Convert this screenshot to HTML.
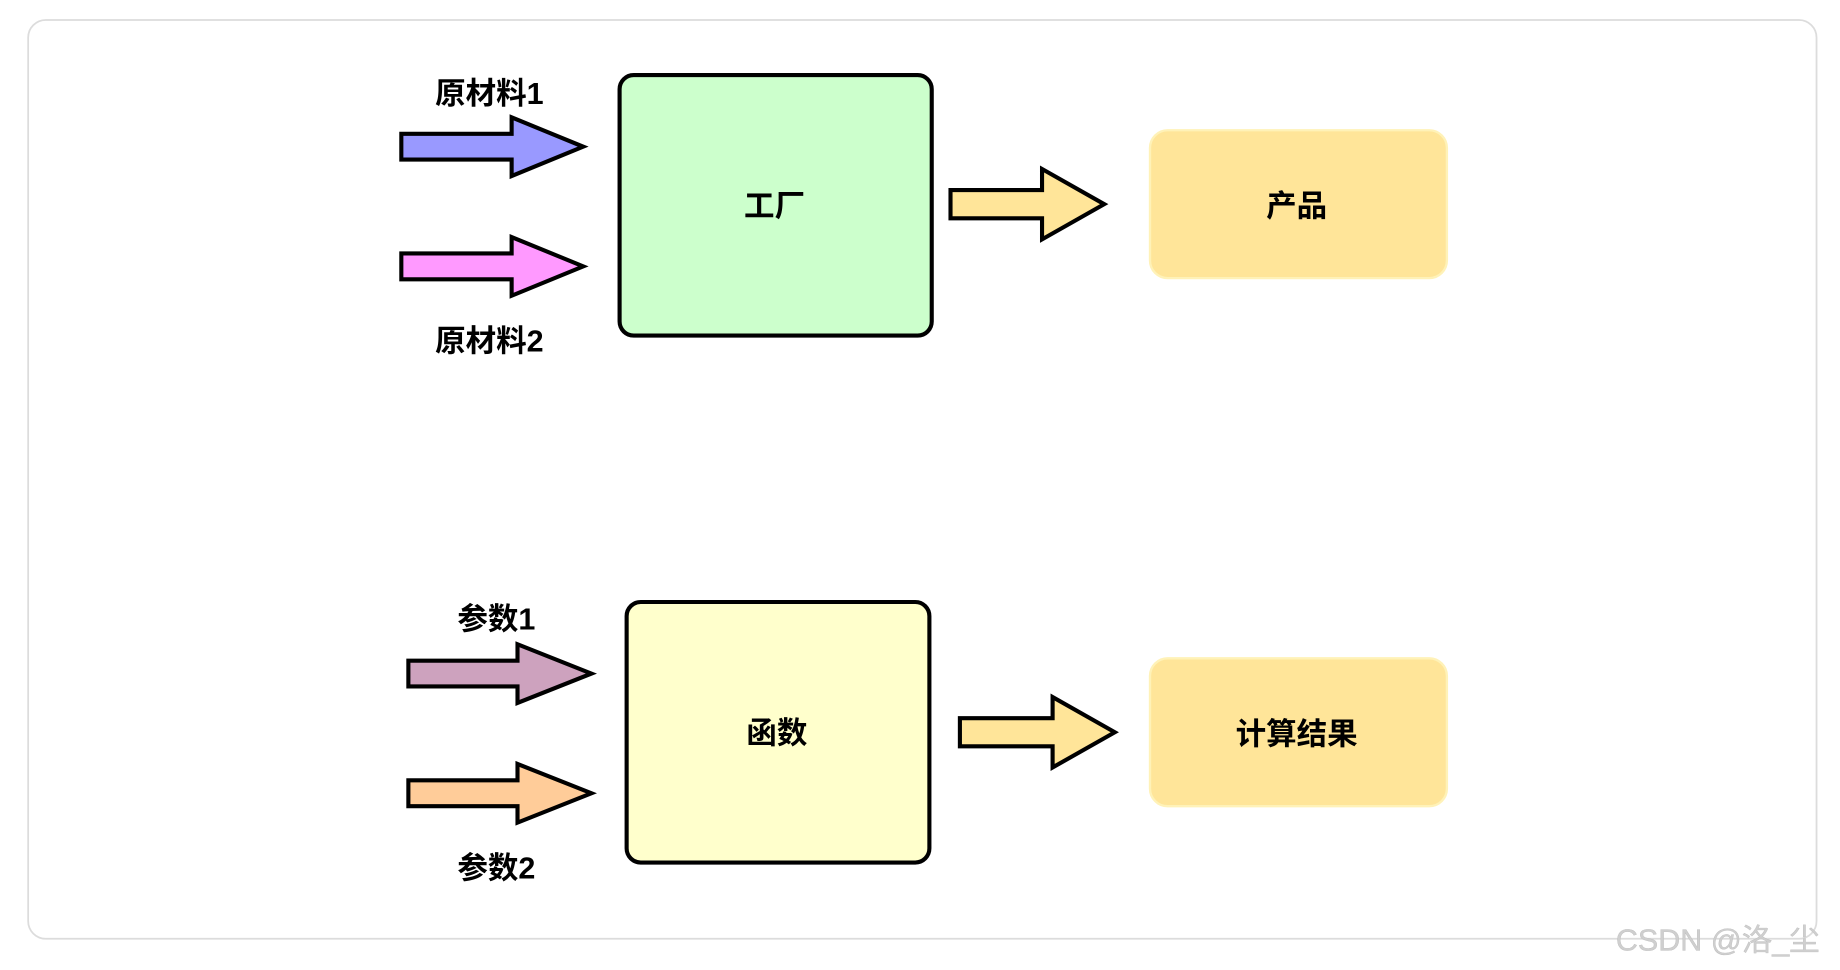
<!DOCTYPE html>
<html><head><meta charset="utf-8"><style>
html,body{margin:0;padding:0;background:#fff;width:1840px;height:970px;overflow:hidden}
svg{display:block}
text{font-family:"Liberation Sans","Noto Sans CJK SC",sans-serif;font-weight:bold;fill:#000}
</style></head><body>
<svg width="1840" height="970" viewBox="0 0 1568 826.6" preserveAspectRatio="none" xmlns="http://www.w3.org/2000/svg">
<rect x="24" y="17" width="1524" height="783" rx="15" fill="#fff" stroke="#dcdcdc" stroke-width="1.5"/>
<g stroke="#000" stroke-width="3.5" stroke-linejoin="miter">
<polygon points="342,114 436,114 436,100 497,125 436,150 436,136 342,136" fill="#9999ff"/>
<polygon points="342,216 436,216 436,202 497,227 436,252 436,238 342,238" fill="#ff99ff"/>
<polygon points="810,162 888,162 888,144 941,174 888,204 888,186 810,186" fill="#ffe599"/>
<polygon points="348,563 441,563 441,549 504,574 441,599 441,585 348,585" fill="#cda2be"/>
<polygon points="348,665 441,665 441,651 504,676 441,701 441,687 348,687" fill="#ffcc99"/>
<polygon points="818,612 897,612 897,594 950,624 897,654 897,636 818,636" fill="#ffe599"/>
<rect x="528" y="64" width="266" height="222" rx="12" fill="#ccffcc"/>
<rect x="534" y="513" width="258" height="222" rx="12" fill="#ffffcc"/>
</g>
<rect x="980" y="111" width="253" height="126" rx="15" fill="#ffe599" stroke="#fff2b8" stroke-width="2"/>
<rect x="980" y="561" width="253" height="126" rx="15" fill="#ffe599" stroke="#fff2b8" stroke-width="2"/>
<g font-size="26" text-anchor="middle" dominant-baseline="central">
<text x="417" y="80">原材料1</text>
<text x="417" y="291">原材料2</text>
<text x="660" y="176">工厂</text>
<text x="1105" y="176">产品</text>
<text x="423" y="528">参数1</text>
<text x="423" y="740">参数2</text>
<text x="662" y="625">函数</text>
<text x="1105" y="626">计算结果</text>
</g>
<text x="1377" y="810" font-size="26" style="font-weight:normal;fill:#cfcfcf" stroke="#bbb" stroke-width="0.3">CSDN @洛_尘</text>
</svg>
</body></html>
